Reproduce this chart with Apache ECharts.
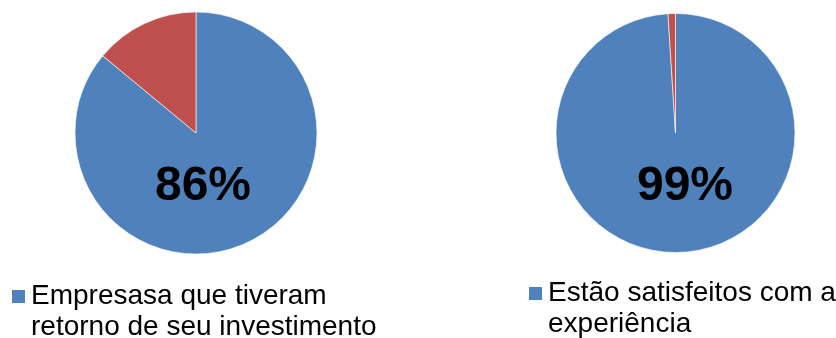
<!DOCTYPE html>
<html>
<head>
<meta charset="utf-8">
<script src="https://cdn.jsdelivr.net/npm/echarts@6/dist/echarts.min.js"></script>
<style>
html,body{margin:0;padding:0;background:#fff;}
#chart{width:836px;height:338px;}
</style>
</head>
<body>
<div id="chart"></div>
<script>
const leftNames = ['Empresasa que tiveram\nretorno de seu investimento', 'Outras'];
const leftValues = [86, 14];
const rightNames = ['Estão satisfeitos com a\nexperiência', 'Não satisfeitos'];
const rightValues = [99, 1];
const colors = ['#4F81BD', '#C0504D'];

const FONT = '"Liberation Sans", Arial, sans-serif';
const chart = echarts.init(document.getElementById('chart'));

function pct(values) {
  const total = values.reduce((a, b) => a + b, 0);
  return Math.round(values[0] / total * 100) + '%';
}

function pie(id, names, values, center, radius) {
  return {
    id: id,
    type: 'pie',
    center: center,
    radius: radius,
    startAngle: 90,
    clockwise: true,
    silent: true,
    label: { show: false },
    labelLine: { show: false },
    itemStyle: { borderColor: '#ffffff', borderWidth: 0.6 },
    data: names.map((n, i) => ({ name: n, value: values[i], itemStyle: { color: colors[i] } }))
  };
}

const legendText = {
  color: '#000',
  fontFamily: FONT,
  fontSize: 28,
  lineHeight: 31
};

chart.setOption({
  animation: false,
  title: [
    { text: pct(leftValues), left: 198, top: 158, textAlign: 'center',
      textStyle: { fontFamily: FONT, fontSize: 48, fontWeight: 'bold', color: '#000' } },
    { text: pct(rightValues), left: 680, top: 158, textAlign: 'center',
      textStyle: { fontFamily: FONT, fontSize: 48, fontWeight: 'bold', color: '#000' } }
  ],
  legend: [
    { data: [leftNames[0]], left: 10, top: 250, padding: 0, icon: 'rect',
      itemWidth: 15, itemHeight: 15, itemGap: 0, textStyle: legendText, selectedMode: false,
      formatter: n => '\n' + n },
    { data: [rightNames[0]], left: 527, top: 247, padding: 0, icon: 'rect',
      itemWidth: 15, itemHeight: 15, itemGap: 0, textStyle: legendText, selectedMode: false,
      formatter: n => '\n' + n }
  ],
  series: [
    pie('left', leftNames, leftValues, [196, 133], 121),
    pie('right', rightNames, rightValues, [675.5, 133], 119.5)
  ]
});
</script>
</body>
</html>
